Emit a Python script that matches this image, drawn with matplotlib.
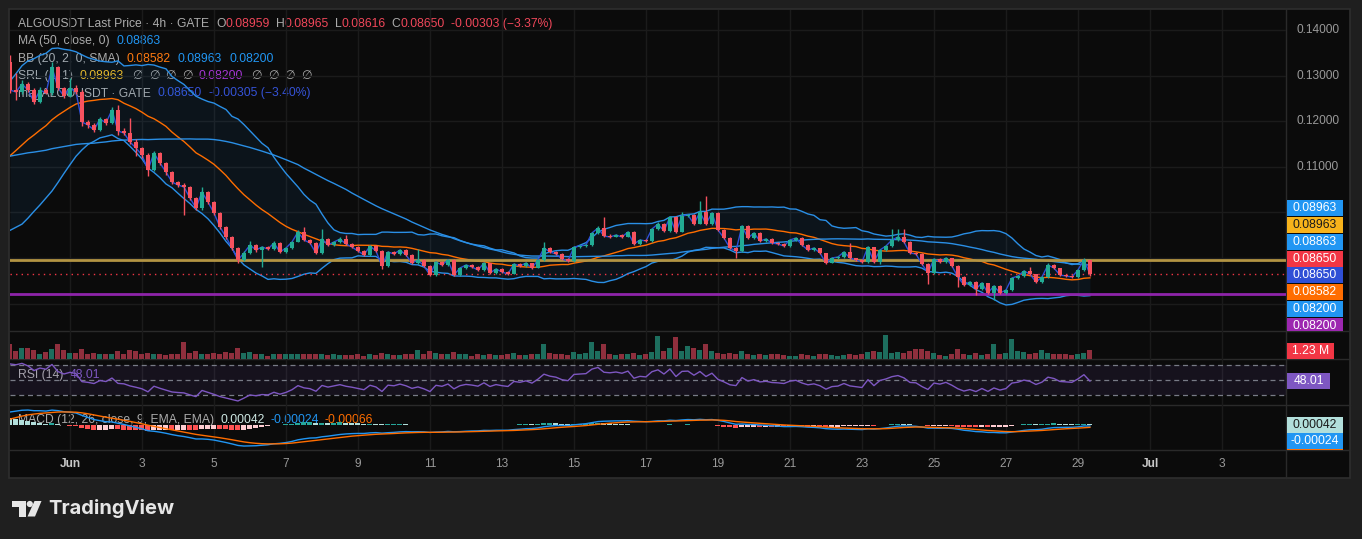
import numpy as np
import pandas as pd
import matplotlib
matplotlib.use("Agg")
import matplotlib.pyplot as plt
from matplotlib.patches import Rectangle, Polygon, Circle

# ---------------- data ----------------
start_time = "2023-05-30 08:00"
# closes before the visible window (only feed the indicators)
pre_close = [0.1150, 0.1158, 0.1145, 0.1162, 0.1170, 0.1155, 0.1148, 0.1160, 0.1152, 0.1140,
             0.1146, 0.1138, 0.1150, 0.1142, 0.1130, 0.1135, 0.1128, 0.1120, 0.1132, 0.1125,
             0.1115, 0.1108, 0.1112, 0.1100, 0.1090, 0.1082, 0.1070, 0.1055, 0.1040, 0.1030,
             0.1030, 0.1040, 0.1030, 0.1045, 0.1055, 0.1065, 0.1060, 0.1075, 0.1085, 0.1100,
             0.1115, 0.1125, 0.1135, 0.1150, 0.1165, 0.1180, 0.1200, 0.1230, 0.1330]

close = [0.12684, 0.12640, 0.12816, 0.12684, 0.12421, 0.12684, 0.12618, 0.13189, 0.12728, 0.12553,
         0.12728, 0.12640, 0.11982, 0.11917, 0.11807, 0.12048, 0.11961, 0.12246, 0.11785, 0.11741,
         0.11544, 0.11412, 0.11259, 0.10930, 0.11303, 0.11083, 0.10886, 0.10667, 0.10601, 0.10557,
         0.10316, 0.10096, 0.10447, 0.10228, 0.09987, 0.09680, 0.09461, 0.09219, 0.08956, 0.09110,
         0.09285, 0.09175, 0.09241, 0.09197, 0.09329, 0.09132, 0.09219, 0.09351, 0.09570, 0.09395,
         0.09329, 0.09110, 0.09417, 0.09285, 0.09351, 0.09417, 0.09307, 0.09241, 0.09154, 0.09066,
         0.09263, 0.09154, 0.08825, 0.09132, 0.09088, 0.09175, 0.09066, 0.08890, 0.08956, 0.08825,
         0.08627, 0.08912, 0.08846, 0.08956, 0.08627, 0.08781, 0.08846, 0.08803, 0.08737, 0.08890,
         0.08671, 0.08759, 0.08693, 0.08649, 0.08868, 0.08825, 0.08890, 0.08781, 0.08956, 0.09219,
         0.09132, 0.09088, 0.08978, 0.08934, 0.09241, 0.09263, 0.09285, 0.09548, 0.09658, 0.09482,
         0.09461, 0.09504, 0.09461, 0.09570, 0.09307, 0.09395, 0.09373, 0.09636, 0.09746, 0.09592,
         0.09899, 0.09570, 0.09921, 0.09943, 0.09746, 0.10009, 0.09746, 0.09987, 0.09614, 0.09439,
         0.09219, 0.09154, 0.09702, 0.09439, 0.09548, 0.09373, 0.09417, 0.09329, 0.09307, 0.09263,
         0.09395, 0.09439, 0.09285, 0.09175, 0.09219, 0.09110, 0.08890, 0.09000, 0.09022, 0.09132,
         0.09000, 0.08956, 0.08912, 0.09241, 0.08912, 0.09175, 0.09263, 0.09395, 0.09461, 0.09351,
         0.09110, 0.09088, 0.08868, 0.08671, 0.08978, 0.08912, 0.09000, 0.08825, 0.08583, 0.08408,
         0.08474, 0.08320, 0.08452, 0.08232, 0.08386, 0.08232, 0.08298, 0.08561, 0.08605, 0.08715,
         0.08649, 0.08474, 0.08583, 0.08846, 0.08781, 0.08627, 0.08605, 0.08583, 0.08737, 0.08959,
         0.08650]

high = [0.13450, 0.13057, 0.12900, 0.12860, 0.12720, 0.12740, 0.12720, 0.13300, 0.13220, 0.12760,
        0.12950, 0.12800, 0.12680, 0.12020, 0.11950, 0.12100, 0.12070, 0.12320, 0.12360, 0.11850,
        0.12070, 0.11600, 0.11440, 0.11300, 0.11340, 0.11320, 0.11100, 0.10900, 0.10690, 0.10640,
        0.10580, 0.10340, 0.10560, 0.10470, 0.10250, 0.10000, 0.09700, 0.09480, 0.09240, 0.09150,
        0.09380, 0.09300, 0.09270, 0.09260, 0.09380, 0.09350, 0.09250, 0.09380, 0.09620, 0.09680,
        0.09420, 0.09350, 0.09640, 0.09430, 0.09380, 0.09450, 0.09500, 0.09320, 0.09260, 0.09170,
        0.09290, 0.09280, 0.09170, 0.09150, 0.09150, 0.09200, 0.09190, 0.09080, 0.09200, 0.08970,
        0.08840, 0.08940, 0.08930, 0.08980, 0.08970, 0.08800, 0.08870, 0.08860, 0.08820, 0.08910,
        0.08900, 0.08780, 0.08770, 0.08710, 0.08890, 0.08880, 0.08910, 0.08900, 0.08980, 0.09350,
        0.09240, 0.09150, 0.09100, 0.09000, 0.09260, 0.09290, 0.09310, 0.09570, 0.09700, 0.09900,
        0.09520, 0.09530, 0.09520, 0.09590, 0.09590, 0.09420, 0.09420, 0.09650, 0.09780, 0.09760,
        0.09920, 0.09930, 0.10010, 0.09970, 0.09960, 0.10250, 0.10360, 0.10010, 0.10000, 0.09630,
        0.09450, 0.09240, 0.09730, 0.09720, 0.09570, 0.09560, 0.09440, 0.09430, 0.09350, 0.09320,
        0.09410, 0.09460, 0.09450, 0.09300, 0.09240, 0.09230, 0.09120, 0.09030, 0.09050, 0.09160,
        0.09330, 0.09010, 0.08970, 0.09260, 0.09250, 0.09200, 0.09290, 0.09640, 0.09640, 0.09640,
        0.09370, 0.09130, 0.09100, 0.08880, 0.09000, 0.08990, 0.09020, 0.09010, 0.08840, 0.08600,
        0.08500, 0.08490, 0.08470, 0.08460, 0.08400, 0.08400, 0.08310, 0.08580, 0.08630, 0.08740,
        0.08800, 0.08660, 0.08600, 0.08880, 0.08860, 0.08790, 0.08640, 0.08620, 0.08760, 0.08990,
        0.08965]

low = [0.12620, 0.12465, 0.12600, 0.12640, 0.12380, 0.12400, 0.12590, 0.12580, 0.12680, 0.12500,
       0.12520, 0.12600, 0.11900, 0.11850, 0.11760, 0.11780, 0.11920, 0.11930, 0.11700, 0.11690,
       0.11500, 0.11240, 0.11200, 0.10800, 0.10900, 0.11040, 0.10830, 0.10620, 0.10560, 0.09940,
       0.10270, 0.10050, 0.10060, 0.10180, 0.09950, 0.09640, 0.09420, 0.09180, 0.08880, 0.08930,
       0.09090, 0.09140, 0.08800, 0.09170, 0.09180, 0.09100, 0.09110, 0.09200, 0.09340, 0.09370,
       0.09300, 0.09080, 0.09090, 0.09260, 0.09270, 0.09330, 0.09280, 0.09220, 0.09130, 0.09040,
       0.09050, 0.09130, 0.08750, 0.08800, 0.09070, 0.09070, 0.09040, 0.08870, 0.08870, 0.08800,
       0.08600, 0.08610, 0.08830, 0.08830, 0.08610, 0.08610, 0.08760, 0.08790, 0.08720, 0.08720,
       0.08650, 0.08650, 0.08680, 0.08630, 0.08640, 0.08810, 0.08810, 0.08760, 0.08770, 0.08940,
       0.09110, 0.09060, 0.08950, 0.08910, 0.08920, 0.09220, 0.09250, 0.09270, 0.09530, 0.09460,
       0.09440, 0.09450, 0.09440, 0.09450, 0.09280, 0.09290, 0.09350, 0.09360, 0.09620, 0.09570,
       0.09580, 0.09550, 0.09560, 0.09900, 0.09720, 0.09740, 0.09720, 0.09730, 0.09590, 0.09410,
       0.09190, 0.09000, 0.09140, 0.09420, 0.09420, 0.09350, 0.09360, 0.09310, 0.09280, 0.09240,
       0.09250, 0.09380, 0.09260, 0.09150, 0.09160, 0.09090, 0.08870, 0.08880, 0.08980, 0.09010,
       0.08980, 0.08940, 0.08890, 0.08900, 0.08890, 0.08870, 0.09160, 0.09250, 0.09380, 0.09330,
       0.09090, 0.09060, 0.08850, 0.08430, 0.08650, 0.08890, 0.08900, 0.08800, 0.08364, 0.08380,
       0.08390, 0.08189, 0.08300, 0.08200, 0.08079, 0.08210, 0.08220, 0.08280, 0.08540, 0.08590,
       0.08630, 0.08450, 0.08460, 0.08570, 0.08760, 0.08610, 0.08580, 0.08560, 0.08570, 0.08720,
       0.08616]

volume_m = [2.0, 1.1, 1.5, 1.4, 1.2, 0.7, 0.9, 1.3, 2.0, 1.2,
            0.8, 0.8, 1.3, 0.7, 0.8, 0.7, 0.6, 0.7, 1.0, 0.6,
            1.2, 1.0, 0.6, 0.8, 0.6, 0.6, 0.5, 0.7, 0.6, 2.2,
            0.8, 1.0, 0.7, 0.6, 0.8, 0.7, 0.9, 0.8, 1.5, 0.8,
            0.9, 0.7, 0.6, 0.4, 0.6, 0.6, 0.6, 0.6, 0.7, 0.6,
            0.6, 0.6, 0.6, 0.5, 0.6, 0.5, 0.5, 0.5, 0.7, 0.4,
            0.6, 0.5, 0.8, 0.7, 0.5, 0.5, 0.6, 0.7, 1.2, 0.6,
            1.1, 0.8, 0.6, 0.6, 0.9, 0.6, 0.6, 0.4, 0.6, 0.5,
            0.7, 0.5, 0.5, 0.6, 0.8, 0.5, 0.5, 0.6, 0.7, 2.0,
            0.8, 0.6, 0.7, 0.5, 0.9, 0.6, 0.8, 2.2, 1.0, 2.0,
            0.7, 0.5, 0.6, 0.6, 0.8, 0.5, 0.6, 0.9, 3.0, 1.0,
            1.4, 2.9, 1.0, 1.7, 1.5, 1.2, 1.9, 1.0, 0.8, 0.7,
            0.8, 0.6, 1.0, 0.7, 0.5, 0.6, 0.5, 0.6, 0.7, 0.5,
            0.4, 0.4, 0.6, 0.5, 0.4, 0.6, 0.7, 0.5, 0.4, 0.5,
            0.6, 0.5, 0.7, 0.9, 1.0, 0.9, 3.2, 0.8, 0.9, 0.8,
            1.1, 1.3, 1.3, 1.1, 0.8, 0.5, 0.4, 0.6, 1.3, 0.6,
            0.5, 0.8, 0.5, 0.6, 2.0, 0.7, 0.8, 2.6, 1.0, 0.9,
            0.6, 0.8, 1.2, 0.8, 0.7, 0.7, 0.6, 0.5, 0.6, 0.8,
            1.23]

srl_levels = [0.08963, 0.08200]
price_ticks = [0.14, 0.13, 0.12, 0.11, 0.10, 0.09, 0.08]
price_tick_labels = ["0.14000", "0.13000", "0.12000", "0.11000"]
x_tick_labels = ["Jun", "3", "5", "7", "9", "11", "13", "15", "17", "19", "21", "23", "25",
                 "27", "29", "Jul", "3"]
x_tick_dates = pd.date_range("2023-06-01", periods=len(x_tick_labels), freq="2D")

# header / axis label values (as shown on the chart)
ohlc_text = ["0.08959", "0.08965", "0.08616", "0.08650"]
change_text = "-0.00303 (\u22123.37%)"
ma_text = "0.08863"
bb_text = ["0.08582", "0.08963", "0.08200"]
srl_text = ["0.08963", "0.08200"]
cmp_text = ["0.08650", "-0.00305 (\u22123.40%)"]
rsi_text = "48.01"
macd_text = ["0.00042", "-0.00024", "-0.00066"]
vol_text = "1.23 M"
axis_labels = [("0.08963", "#2196f3", "white"), ("0.08963", "#f7b31b", "#1a1a1a"),
               ("0.08863", "#2196f3", "white"), ("0.08650", "#f23645", "white"),
               ("0.08650", "#2f4fd6", "white"), ("0.08582", "#ff6d00", "white"),
               ("0.08200", "#2196f3", "white"), ("0.08200", "#9c27b0", "white")]

# ---------------- indicators ----------------
n_pre = len(pre_close)
c = np.array(close)
hi = np.array(high)
lo = np.array(low)
vol = np.array(volume_m)
s = pd.Series(np.r_[pre_close, close])
ma50 = s.rolling(50, min_periods=1).mean().to_numpy()[n_pre:]
bb_mid_s = s.rolling(20, min_periods=1).mean()
bb_sd = s.rolling(20, min_periods=1).std(ddof=0)
bb_mid = bb_mid_s.to_numpy()[n_pre:]
bb_up = (bb_mid_s + 2 * bb_sd).to_numpy()[n_pre:]
bb_lo = (bb_mid_s - 2 * bb_sd).to_numpy()[n_pre:]
d = s.diff()
ag = d.clip(lower=0).ewm(alpha=1 / 14, adjust=False).mean()
al = (-d.clip(upper=0)).ewm(alpha=1 / 14, adjust=False).mean()
rsi = (100 - 100 / (1 + ag / al)).to_numpy()[n_pre:]
ema12 = s.ewm(span=12, adjust=False).mean()
ema26 = s.ewm(span=26, adjust=False).mean()
macd_s = ema12 - ema26
sig_s = macd_s.ewm(span=9, adjust=False).mean()
hist_s = macd_s - sig_s
macd = macd_s.to_numpy()[n_pre:]
sig = sig_s.to_numpy()[n_pre:]
hist_all = hist_s.to_numpy()
hist = hist_all[n_pre:]
hist_prev = hist_all[n_pre - 1:-1]

o = np.r_[pre_close[-1], c[:-1]]
times = pd.date_range(start_time, periods=len(close), freq="4h")
t0 = pd.Timestamp("2023-06-01")
x = ((times - t0) / pd.Timedelta(days=1)).to_numpy()
tick_x = ((x_tick_dates - t0) / pd.Timedelta(days=1)).to_numpy()

# ---------------- figure ----------------
W, H = 1362, 539
FONT = ["Liberation Sans", "DejaVu Sans"]
plt.rcParams["font.family"] = FONT
fig = plt.figure(figsize=(W / 100, H / 100), dpi=100, facecolor="#1f1f1f")


def rect(x0, y0, x1, y1):
    return [x0 / W, 1 - y1 / H, (x1 - x0) / W, (y1 - y0) / H]


bg = fig.add_axes([0, 0, 1, 1], zorder=0)
bg.set_xlim(0, W)
bg.set_ylim(H, 0)
bg.axis("off")
bg.add_patch(Rectangle((9, 9), 1341, 469, facecolor="#0b0b0b", edgecolor="#2e2e2e", lw=1.2))
for yy in (331, 359, 405, 450):
    bg.plot([9, 1350], [yy, yy], color="#2a2a2a", lw=1)
bg.plot([1286, 1286], [9, 478], color="#2a2a2a", lw=1)

PL, PR = 9.5, 1286
XL = (-1.68, 33.78)
YL = (0.07399, 0.14439)
GRID = "#1b1b1b"
main = fig.add_axes(rect(PL, 10, PR, 331), zorder=1)
volax = fig.add_axes(rect(PL, 331, PR, 359), zorder=1)
rsiax = fig.add_axes(rect(PL, 359, PR, 405), zorder=1)
macdax = fig.add_axes(rect(PL, 405, PR, 450), zorder=1)
for ax in (main, volax, rsiax, macdax):
    ax.set_facecolor("none")
    ax.set_xlim(*XL)
    for sp in ax.spines.values():
        sp.set_visible(False)
    ax.set_xticks([])
    ax.set_yticks([])
    for tx in tick_x:
        ax.axvline(tx, color=GRID, lw=1, zorder=0)

# main pane
main.set_ylim(*YL)
for p in price_ticks:
    main.axhline(p, color=GRID, lw=1, zorder=0)
main.fill_between(x, bb_up, bb_lo, color="#2196f3", alpha=0.07, lw=0, zorder=1)
main.plot(x, bb_up, color="#2a8fe6", lw=1, zorder=2)
main.plot(x, bb_lo, color="#2a8fe6", lw=1, zorder=2)
main.plot(x, bb_mid, color="#ff6d00", lw=1, zorder=2)
main.plot(x, ma50, color="#2a8fe6", lw=1, zorder=2)
main.axhline(srl_levels[0], color="#b39443", lw=2, zorder=2)
main.axhline(srl_levels[1], color="#8e24aa", lw=2, zorder=2)
main.axhline(c[-1], color="#f23645", lw=1, ls=(0, (1, 3)), zorder=2)
main.plot(x, c, color="#2f4fd6", lw=1, zorder=2.5)
UP, DN = "#22ab94", "#f7525f"
cols = np.where(c >= o, UP, DN)
main.vlines(x, lo, hi, colors=cols, lw=1, zorder=3)
main.bar(x, np.maximum(np.abs(c - o), 0.00005), bottom=np.minimum(o, c), width=0.115,
         color=cols, lw=0, zorder=4)

# volume pane
vcols = np.where(c >= o, "#1d6e5e", "#8f2f3d")
volax.bar(x, vol, width=0.14, color=vcols, lw=0, zorder=2)
volax.set_ylim(0, vol.max() * 28 / 24.5)

# RSI pane
rsiax.set_ylim(16.67, 78)
rsiax.axhspan(30, 70, color="#7e57c2", alpha=0.1, lw=0, zorder=1)
for lv in (70, 50, 30):
    rsiax.axhline(lv, color="#787b86", lw=0.9, ls=(0, (4, 3)), zorder=1)
rsiax.plot(x, rsi, color="#7e57c2", lw=1, zorder=3)

# MACD pane
hcols = np.where(hist >= 0, np.where(hist > hist_prev, "#26a69a", "#b2dfdb"),
                 np.where(hist < hist_prev, "#ff5252", "#ffcdd2"))
macdax.bar(x, hist, width=0.14, color=hcols, lw=0, zorder=2)
macdax.plot(x, macd, color="#2196f3", lw=1, zorder=3)
macdax.plot(x, sig, color="#ff6d00", lw=1, zorder=3)
mlo = min(macd.min(), sig.min(), hist.min())
mhi = max(macd.max(), sig.max(), hist.max())
rng = mhi - mlo
macdax.set_ylim(mlo - 0.11 * rng, mhi + 0.14 * rng)

# x-axis labels
xa = fig.add_axes(rect(PL, 450, PR, 478), zorder=1)
xa.set_facecolor("none")
xa.axis("off")
xa.set_xlim(*XL)
xa.set_ylim(0, 1)
for tx, lab in zip(tick_x, x_tick_labels):
    bold = lab in ("Jun", "Jul")
    xa.text(tx, 0.5, lab, ha="center", va="center", fontsize=8.6,
            color="#c8c8c8" if bold else "#9a9a9a", fontweight="bold" if bold else "normal")

# price axis tick labels (lower ones are hidden behind the value labels)
pax = fig.add_axes(rect(1286, 10, 1350, 331), zorder=1)
pax.set_facecolor("none")
pax.axis("off")
pax.set_xlim(0, 1)
pax.set_ylim(*YL)
for p, txt in zip(price_ticks, price_tick_labels):
    pax.text(0.17, p, txt, ha="left", va="center", fontsize=8.6, color="#9a9a9a")

# header legends
r = fig.canvas.get_renderer()
G = "#ababab"
RED = "#f0475a"
BLUE = "#2196f3"


def seq(x0, y0, parts, size=8.7):
    xx = x0
    for txt, col, gap in parts:
        t = bg.text(xx, y0, txt, color=col, fontsize=size, ha="left", va="center")
        xx = t.get_window_extent(r).x1 + gap


seq(18, 24, [("ALGOUSDT Last Price \u00b7 4h \u00b7 GATE", G, 7), ("O", G, 0), (ohlc_text[0], RED, 6),
             ("H", G, 0), (ohlc_text[1], RED, 6), ("L", G, 0), (ohlc_text[2], RED, 6),
             ("C", G, 0), (ohlc_text[3], RED, 6), (change_text, RED, 0)])
seq(18, 41, [("MA (50, close, 0)", G, 7), (ma_text, BLUE, 0)])
seq(18, 59, [("BB (20, 2, 0, SMA)", G, 7), (bb_text[0], "#ff7a10", 7), (bb_text[1], BLUE, 7),
             (bb_text[2], BLUE, 0)])
seq(18, 76, [("SRL (1, 1)", G, 7), (srl_text[0], "#f5bd1f", 8)] + [("\u2205", G, 6)] * 4 +
    [(srl_text[1], "#a737d6", 8)] + [("\u2205", G, 6)] * 4)
seq(18, 93, [("ma_ALGOUSDT \u00b7 GATE", G, 7), (cmp_text[0], "#3553d8", 7), (cmp_text[1], "#3553d8", 0)])
seq(18, 375, [("RSI (14)", G, 6), (rsi_text, "#7e57c2", 0)])
seq(18, 420, [("MACD (12, 26, close, 9, EMA, EMA)", G, 6), (macd_text[0], "#cfe9e4", 6),
              (macd_text[1], BLUE, 6), (macd_text[2], "#ff6d00", 0)])

# right-side value labels
lab = fig.add_axes([0, 0, 1, 1], zorder=3)
lab.set_facecolor("none")
lab.axis("off")
lab.set_xlim(0, W)
lab.set_ylim(H, 0)
clip = Rectangle((1286, 10), 64, 321, transform=lab.transData)
y_first, step = 208, 16.85
for k, (txt, bgc, fgc) in enumerate(axis_labels):
    yc = y_first + k * step
    pr = Rectangle((1287, yc - 8), 56, 16, facecolor=bgc, edgecolor="none")
    lab.add_patch(pr)
    pr.set_clip_path(clip)
    t = lab.text(1315, yc, txt, ha="center", va="center", fontsize=8.7, color=fgc)
    t.set_clip_path(clip)


def box(y0, txt, bgc, fgc, w=56):
    lab.add_patch(Rectangle((1287, y0 - 8), w, 16, facecolor=bgc, edgecolor="none"))
    lab.text(1287 + w / 2, y0, txt, ha="center", va="center", fontsize=8.7, color=fgc)


box(351, vol_text, "#f23645", "white", w=47)
box(381, rsi_text, "#7e57c2", "white", w=43)
box(425, macd_text[0], "#b2dfdb", "#1a1a1a")
box(441, macd_text[1], "#2196f3", "white")
lab.add_patch(Rectangle((1287, 448.5), 56, 1.5, facecolor="#ff6d00", edgecolor="none"))

# TradingView logo
bg.add_patch(Polygon([(11.5, 501), (25.5, 501), (25.5, 516.5), (19, 516.5), (19, 507), (11.5, 507)],
                     closed=True, facecolor="#e6e6e6", edgecolor="none"))
bg.add_patch(Circle((29.8, 504), 3.1, facecolor="#e6e6e6", edgecolor="none"))
bg.add_patch(Polygon([(34.5, 501), (41.5, 501), (35, 516.5), (27.5, 516.5)],
                     closed=True, facecolor="#e6e6e6", edgecolor="none"))
bg.text(48, 509, "TradingView", ha="left", va="center", fontsize=14.5, fontweight="bold",
        color="#e6e6e6", family=["Inter", "DejaVu Sans"])

fig.savefig("out.png", dpi=100, facecolor=fig.get_facecolor())
